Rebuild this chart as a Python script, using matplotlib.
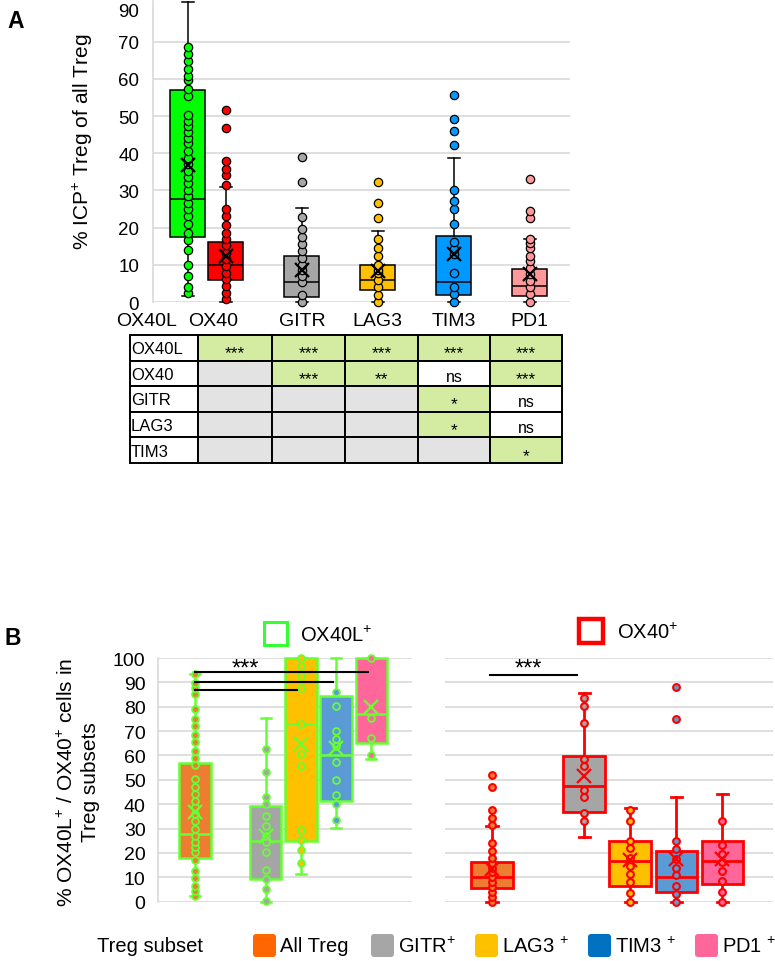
import numpy as np
import matplotlib
matplotlib.use('Agg')
import matplotlib.pyplot as plt
from matplotlib.patches import Rectangle, FancyBboxPatch

plt.rcParams['font.family'] = ['Liberation Sans', 'DejaVu Sans']
plt.rcParams['mathtext.fontset'] = 'custom'
plt.rcParams['mathtext.rm'] = 'Liberation Sans'
plt.rcParams['mathtext.it'] = 'Liberation Sans:italic'
plt.rcParams['mathtext.bf'] = 'Liberation Sans:bold'

# ---------------- panel A data
a_names = ['OX40L', 'OX40', 'GITR', 'LAG3', 'TIM3', 'PD1']
a_pos = [0.5, 1, 2, 3, 4, 5]
a_label_pos = [-0.05, 0.83, 2, 3, 4, 5]   # category labels sit left of the first two boxes
a_colors = ['#00ff00', '#ff0000', '#a6a6a6', '#ffc000', '#0099ff', '#ff9999']
a_q1 = [17.6, 6.0, 1.4, 3.2, 1.8, 1.7]
a_med = [27.7, 10.0, 5.5, 6.0, 5.5, 4.4]
a_q3 = [57.0, 16.0, 12.3, 10.0, 17.7, 8.8]
a_mean = [36.8, 12.5, 8.5, 8.3, 12.8, 7.4]
a_lo = [1.6, 0, 0, 0, 0, 0]
a_hi = [80.6, 30.9, 25.2, 19.2, 38.7, 17.0]
a_points = [
    [2.5, 4.1, 7.0, 9.9, 14.0, 16.7, 18.6, 21.1, 23.1, 24.9, 26.5, 28.5, 30.1,
     31.9, 33.6, 35.2, 37.0, 38.6, 40.6, 42.7, 44.2, 45.7, 47.3, 48.7, 50.2,
     55.4, 57.3, 59.7, 60.8, 62.7, 64.8, 66.8, 68.5],
    [0.7, 2.5, 4.3, 6.1, 7.9, 9.7, 11.5, 13.3, 15.2, 17.0, 18.6, 20.6, 23.1,
     24.9, 31.4, 34.1, 35.8, 37.8, 46.9, 51.5],
    [0, 1.8, 5.4, 7.0, 8.6, 9.9, 11.9, 13.7, 15.5, 17.6, 19.5, 22.9, 32.3, 39.0],
    [0, 1.8, 3.9, 5.9, 7.9, 8.6, 9.9, 12.4, 14.6, 17.0, 22.5, 26.7, 32.3],
    [0, 2.1, 4.1, 7.9, 12.8, 14.2, 16.1, 21.1, 25.1, 27.2, 30.1, 42.1, 46.0,
     49.3, 55.6],
    [0, 2.1, 4.1, 5.6, 7.4, 9.2, 11.0, 12.5, 14.6, 15.9, 17.0, 22.7, 24.5, 33.0],
]
a_yticks = [0, 10, 20, 30, 40, 50, 60, 70, 78.7]
a_yticklabels = ['0', '10', '20', '30', '40', '50', '60', '70', '90']

# significance table under panel A
tbl_rows = ['OX40L', 'OX40', 'GITR', 'LAG3', 'TIM3']
tbl_cells = [
    ['***', '***', '***', '***', '***'],
    ['', '***', '**', 'ns', '***'],
    ['', '', '', '*', 'ns'],
    ['', '', '', '*', 'ns'],
    ['', '', '', '', '*'],
]

# ---------------- panel B data
b_names = ['All Treg', 'GITR$^{+}$', 'LAG3 $^{+}$', 'TIM3 $^{+}$', 'PD1 $^{+}$']
b_pos = [0, 2, 3, 4, 5]
b_fill = ['#ed7d31', '#a5a5a5', '#ffc000', '#5b9bd5', '#ff6699']
b_legend_colors = ['#ff6600', '#a6a6a6', '#ffc000', '#0070c0', '#ff6699']

l_q1 = [17.8, 9.3, 25.0, 41.2, 65.1]
l_med = [27.8, 24.9, 72.9, 60.3, 77.0]
l_q3 = [56.9, 39.1, 100, 84.3, 100]
l_mean = [36.7, 27.0, 64.7, 62.9, 79.8]
l_lo = [2.5, 0, 11.4, 30.1, 58.6]
l_hi = [93.4, 75.3, 100, 100, 100]
l_points = [
    [2.5, 4.5, 6.6, 9.6, 12.6, 17.0, 20.3, 22.3, 24.6, 27.1, 29.8, 33.2, 36.0,
     38.7, 41.4, 44.2, 46.9, 50.3, 56.1, 58.8, 62.0, 65.4, 68.4, 72.0, 75.0,
     79.0, 85.2, 87.6, 89.7, 93.4],
    [0.3, 5.2, 9.3, 13.1, 20.3, 24.4, 27.1, 31.2, 35.3, 40.1, 42.8, 53.1, 62.7],
    [15.9, 21.3, 25.4, 29.5, 55.8, 60.6, 72.9, 87.6, 92.5, 96.6, 100],
    [33.5, 40.1, 43.9, 50.1, 57.2, 63.8, 66.8, 70.2, 80.2, 86.2],
    [60.2, 67.0, 75.3, 100],
]
l_sig_end = [4.9, 3.9, 2.9]
l_sig_y = [94.1, 90.0, 87.0]

r_q1 = [5.6, 36.9, 6.4, 4.0, 7.3]
r_med = [10.0, 47.3, 16.7, 10.0, 16.7]
r_q3 = [16.1, 59.9, 24.9, 20.8, 24.9]
r_mean = [13.5, 51.7, 17.0, 17.4, 17.5]
r_lo = [0, 26.5, 0, 0, 0]
r_hi = [31.0, 85.7, 38.5, 42.9, 44.2]
r_points = [
    [0, 2.0, 4.0, 6.0, 8.0, 10.0, 12.0, 14.0, 16.0, 17.8, 20.8, 24.0, 31.3,
     34.2, 37.5, 46.9, 51.8],
    [33.1, 36.5, 42.9, 46.0, 55.5, 58.5, 73.2, 80.3, 83.4],
    [0, 3.5, 7.9, 11.3, 14.7, 18.1, 22.2, 24.9, 33.1, 37.6],
    [0, 3.0, 6.5, 10.9, 14.0, 17.4, 21.8, 24.9, 74.9, 88.2],
    [0, 4.0, 8.3, 12.4, 16.3, 19.7, 23.1, 33.3],
]
r_sig_end = 1.85
r_sig_y = 93.2
b_yticks = [0, 10, 20, 30, 40, 50, 60, 70, 80, 90, 100]

GRID = '#d9d9d9'


def make_stats(q1, med, q3, mean, lo, hi):
    return [dict(q1=a, med=b, q3=c, mean=d, whislo=e, whishi=f, fliers=[])
            for a, b, c, d, e, f in zip(q1, med, q3, mean, lo, hi)]


def draw_boxes(ax, stats, pos, fills, edge, width, capw, lw, mean_size):
    bp = ax.bxp(stats, positions=pos, widths=width, capwidths=capw,
                patch_artist=True, showmeans=True, showfliers=False,
                manage_ticks=False,
                boxprops=dict(edgecolor=edge, linewidth=lw),
                whiskerprops=dict(color=edge, linewidth=lw),
                capprops=dict(color=edge, linewidth=lw),
                medianprops=dict(color=edge, linewidth=lw),
                meanprops=dict(marker='x', markeredgecolor=edge,
                               markersize=mean_size, markeredgewidth=1.6,
                               zorder=5))
    for patch, c in zip(bp['boxes'], fills):
        patch.set_facecolor(c)
    for k in bp:
        for art in bp[k]:
            art.set_clip_on(False)
    return bp


fig = plt.figure(figsize=(7.75, 9.62), dpi=100)
W, H = 775.0, 962.0

# ---------------- panel A
axA = fig.add_axes([153 / W, 1 - 303 / H, 417 / W, 81 * 3.72 / H])
axA.set_xlim(0.04, 5.53)
axA.set_ylim(0, 81)
axA.set_axisbelow(True)
axA.yaxis.grid(True, color=GRID, linewidth=1.2)
for s in ['top', 'right', 'bottom']:
    axA.spines[s].set_visible(False)
axA.spines['left'].set_color(GRID)
axA.spines['left'].set_linewidth(1.2)
axA.set_yticks(a_yticks)
axA.set_yticklabels(a_yticklabels, fontsize=13.5)
axA.yaxis.get_gridlines()[-1].set_visible(False)
axA.set_xticks([])
axA.tick_params(length=0, pad=10)
for x, lab in zip(a_label_pos, a_names):
    axA.text(x, -0.063, lab, transform=axA.get_xaxis_transform(), fontsize=14,
             ha='center', va='center', clip_on=False)
axA.set_ylabel('% ICP$^{+}$ Treg of all Treg', fontsize=15)
axA.yaxis.set_label_coords(-0.14, 0.535)

draw_boxes(axA, make_stats(a_q1, a_med, a_q3, a_mean, a_lo, a_hi), a_pos,
           a_colors, 'black', 0.46, 0.16, 1.1, 10)
for p, pts, c in zip(a_pos, a_points, a_colors):
    axA.scatter([p] * len(pts), pts, s=36, facecolor=c, edgecolor='black',
                linewidth=0.9, zorder=4, clip_on=False)

# ---------------- panel B, left (OX40L+) and right (OX40+)
axL = fig.add_axes([158 / W, 1 - 902.7 / H, 254 / W, 243.7 / H])
axR = fig.add_axes([445 / W, 1 - 902.7 / H, 328 / W, 243.7 / H])
for ax in (axL, axR):
    ax.set_ylim(0, 100)
    ax.set_axisbelow(True)
    ax.yaxis.grid(True, color=GRID, linewidth=1.2)
    for s in ['top', 'right', 'bottom']:
        ax.spines[s].set_visible(False)
    ax.set_yticks(b_yticks)
    ax.set_xticks([])
    ax.tick_params(length=0)
axL.spines['left'].set_color(GRID)
axL.spines['left'].set_linewidth(1.2)
axR.spines['left'].set_visible(False)
axL.set_xlim(-1.05, 6.15)
axR.set_xlim(-1.02, 6.1)
axL.set_yticklabels([str(t) for t in b_yticks], fontsize=14)
axL.tick_params(axis='y', pad=9)
axR.set_yticklabels([])
axL.set_ylabel('% OX40L$^{+}$ / OX40$^{+}$ cells in\nTreg subsets',
               fontsize=15, linespacing=1.25)
axL.yaxis.set_label_coords(-0.228, 0.495)

draw_boxes(axL, make_stats(l_q1, l_med, l_q3, l_mean, l_lo, l_hi), b_pos,
           b_fill, '#66ff33', 0.9, 0.28, 1.8, 10)
for p, pts, c in zip(b_pos, l_points, b_fill):
    axL.scatter([p] * len(pts), pts, s=24, facecolor=c, edgecolor='#66ff33',
                linewidth=1.3, zorder=4, clip_on=False)
for x1, y in zip(l_sig_end, l_sig_y):
    axL.plot([0, x1], [y, y], color='black', lw=1.5, zorder=6, clip_on=False)
axL.text(1.42, 95.5, '***', ha='center', va='center', fontsize=17, zorder=6)

draw_boxes(axR, make_stats(r_q1, r_med, r_q3, r_mean, r_lo, r_hi), b_pos,
           b_fill, '#ff0000', 0.9, 0.24, 2.0, 10)
for p, pts, c in zip(b_pos, r_points, b_fill):
    axR.scatter([p] * len(pts), pts, s=24, facecolor=c, edgecolor='#ff0000',
                linewidth=1.5, zorder=4, clip_on=False)
axR.plot([-0.05, r_sig_end], [r_sig_y, r_sig_y], color='black', lw=1.5,
         zorder=6, clip_on=False)
axR.text(0.78, 95.5, '***', ha='center', va='center', fontsize=17, zorder=6)

# ---------------- overlay for labels, table and legends (pixel coords)
ov = fig.add_axes([0, 0, 1, 1])
ov.set_xlim(0, W)
ov.set_ylim(H, 0)
ov.axis('off')

ov.text(7, 21, 'A', fontsize=16.5, fontweight='bold', va='center')
ov.text(4, 639, 'B', fontsize=16.5, fontweight='bold', va='center')

# table
col_edges = [130, 198, 272, 345, 418, 490, 562]
row_top, row_h = 336, 25.6
for i, (rname, cells) in enumerate(zip(tbl_rows, tbl_cells)):
    y0 = row_top + i * row_h
    ov.add_patch(Rectangle((col_edges[0], y0), col_edges[1] - col_edges[0], row_h,
                           facecolor='white', edgecolor='black', lw=1.4))
    ov.text(col_edges[0] + 1, y0 + row_h / 2 + 1, rname, fontsize=12,
            ha='left', va='center')
    for j, val in enumerate(cells):
        x0 = col_edges[j + 1]
        w = col_edges[j + 2] - x0
        if val == '':
            fc = '#e3e3e3'
        elif val == 'ns':
            fc = 'white'
        else:
            fc = '#d4eca2'
        ov.add_patch(Rectangle((x0, y0), w, row_h, facecolor=fc,
                               edgecolor='black', lw=1.4))
        if val == 'ns':
            ov.text(x0 + w / 2, y0 + row_h / 2 + 3, val, fontsize=11.5,
                    ha='center', va='center')
        elif val:
            ov.text(x0 + w / 2, y0 + row_h / 2 + 5, val, fontsize=12.5,
                    ha='center', va='center')

# top legend of panel B
ov.add_patch(Rectangle((264, 623), 23, 23, facecolor='white',
                       edgecolor='#33ff33', lw=2.2))
ov.text(300, 636, 'OX40L$^{+}$', fontsize=14.5, va='center')
ov.add_patch(Rectangle((579, 620), 24, 24, facecolor='white',
                       edgecolor='#ff0000', lw=3.2))
ov.text(617, 633, 'OX40$^{+}$', fontsize=14.5, va='center')

# bottom legend
ov.text(97, 947, 'Treg subset', fontsize=14.5, va='center')
leg_x = [253, 371, 475, 588, 695]
for x, c, lab in zip(leg_x, b_legend_colors, b_names):
    ov.add_patch(FancyBboxPatch((x + 2, 937), 19, 19,
                                boxstyle='round,pad=2,rounding_size=3',
                                facecolor=c, edgecolor='none'))
    ov.text(x + 27, 947, lab, fontsize=14.5, va='center')

fig.savefig('out.png', dpi=100)
